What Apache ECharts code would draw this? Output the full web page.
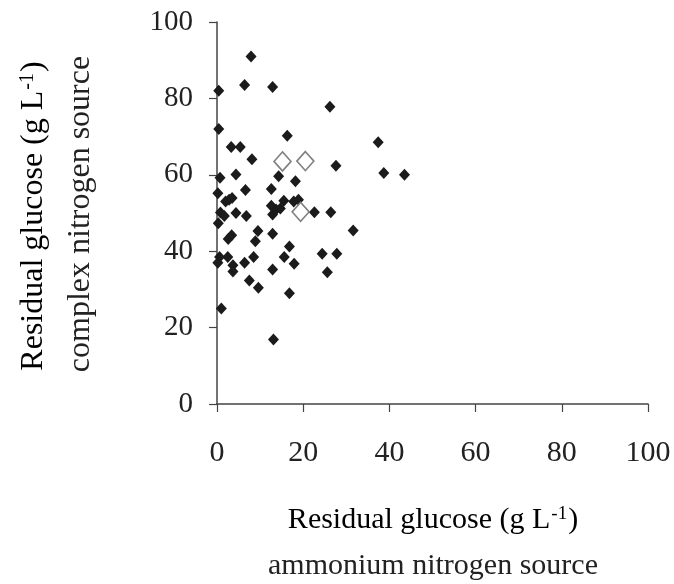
<!DOCTYPE html>
<html>
<head>
<meta charset="utf-8">
<script src="https://cdn.jsdelivr.net/npm/echarts@6/dist/echarts.min.js"></script>
<style>
html,body{margin:0;padding:0;background:#fff;}
#chart{width:674px;height:584px;}
</style>
</head>
<body>
<div id="chart"></div>
<script>
// Filled diamonds: [ammonium nitrogen source, complex nitrogen source] residual glucose (g/L)
const filledPoints = [
  [7.9, 91.0], [0.4, 82.0], [6.4, 83.5], [12.9, 83.0], [26.2, 77.8],
  [0.4, 72.0], [16.3, 70.2], [3.3, 67.3], [5.4, 67.3], [8.1, 64.1],
  [37.4, 68.5], [27.6, 62.4], [38.7, 60.5], [43.5, 60.0], [0.7, 59.2],
  [4.4, 60.1], [14.3, 59.6], [18.2, 58.3], [6.6, 56.0], [12.6, 56.3],
  [0.2, 55.2], [2.0, 53.0], [2.8, 53.5], [3.5, 53.9], [15.5, 53.2],
  [17.8, 53.0], [18.9, 53.5], [22.6, 50.2], [26.4, 50.2], [0.8, 50.1],
  [1.7, 49.2], [0.3, 47.3], [4.4, 50.0], [6.8, 49.2], [12.6, 51.9],
  [13.7, 50.9], [14.7, 51.2], [12.9, 49.6], [2.6, 43.2], [3.4, 44.2],
  [9.5, 45.3], [8.9, 42.6], [12.9, 44.6], [31.6, 45.4], [16.8, 41.2],
  [0.6, 38.5], [2.5, 38.5], [0.2, 37.0], [3.7, 36.3], [3.7, 34.7],
  [6.4, 37.0], [8.5, 38.5], [15.6, 38.5], [17.9, 36.7], [24.4, 39.3],
  [27.8, 39.3], [25.6, 34.5], [12.9, 35.2], [7.5, 32.3], [9.6, 30.4],
  [16.8, 29.0], [1.0, 25.0], [13.1, 16.9]
];
// Open diamonds
const openPoints = [[15.2, 63.5], [20.5, 63.6], [19.4, 50.3]];

const xTicks = [0, 20, 40, 60, 80, 100];
const yTicks = [0, 20, 40, 60, 80, 100];

const xTitle1 = 'Residual glucose (g L';
const xTitle2 = 'ammonium nitrogen source';
const yTitle1 = 'Residual glucose (g L';
const yTitle2 = 'complex nitrogen source';
const supText = '-1';

const serif = '"Liberation Serif", "Times New Roman", serif';
const ink = '#222';

const chart = echarts.init(document.getElementById('chart'), null, {renderer: 'canvas'});

function axisCommon(ticks) {
  return {
    type: 'value',
    min: ticks[0],
    max: ticks[ticks.length - 1],
    interval: ticks[1] - ticks[0],
    splitLine: {show: false},
    axisLine: {show: true, onZero: false, lineStyle: {color: '#444', width: 1.5}},
    axisTick: {show: true, length: 8, lineStyle: {color: '#444', width: 1.2}},
    axisLabel: {color: ink, fontFamily: serif, fontSize: 29}
  };
}

const xAxis = axisCommon(xTicks);
xAxis.axisLabel.margin = 34;
xAxis.axisLabel.fontSize = 30;
const yAxis = axisCommon(yTicks);
yAxis.axisLabel.margin = 24;

const richStyles = (fs) => ({
  a: {fontFamily: serif, fontSize: fs, color: ink},
  s: {fontFamily: serif, fontSize: Math.round(fs * 0.62), color: ink, verticalAlign: 'top', padding: [0, 1, 0, 1]}
});

chart.setOption({
  animation: false,
  backgroundColor: '#fff',
  grid: {left: 217, top: 22, width: 431, height: 382, containLabel: false},
  xAxis: xAxis,
  yAxis: yAxis,
  series: [
    {
      type: 'scatter',
      data: filledPoints,
      symbol: 'diamond',
      symbolSize: [11, 12],
      itemStyle: {color: '#1b1b1b', opacity: 1},
      z: 3
    },
    {
      type: 'scatter',
      data: openPoints,
      symbol: 'diamond',
      symbolSize: [17, 19],
      itemStyle: {color: '#fff', borderColor: '#808080', borderWidth: 1.6, opacity: 1},
      z: 4
    }
  ],
  graphic: [
    {
      type: 'text', position: [433, 520],
      style: {
        text: '{a|' + xTitle1 + '}{s|' + supText + '}{a|)}',
        rich: richStyles(30), align: 'center', verticalAlign: 'middle'
      }
    },
    {
      type: 'text', position: [433, 566],
      style: {text: xTitle2, font: '30px ' + serif, fill: ink, align: 'center', verticalAlign: 'middle'}
    },
    {
      type: 'text', position: [34, 216], rotation: Math.PI / 2,
      style: {
        text: '{a|' + yTitle1 + '}{s|' + supText + '}{a|)}',
        rich: richStyles(32), align: 'center', verticalAlign: 'middle'
      }
    },
    {
      type: 'text', position: [81, 214], rotation: Math.PI / 2,
      style: {text: yTitle2, font: '32px ' + serif, fill: ink, align: 'center', verticalAlign: 'middle'}
    }
  ]
});
</script>
</body>
</html>
